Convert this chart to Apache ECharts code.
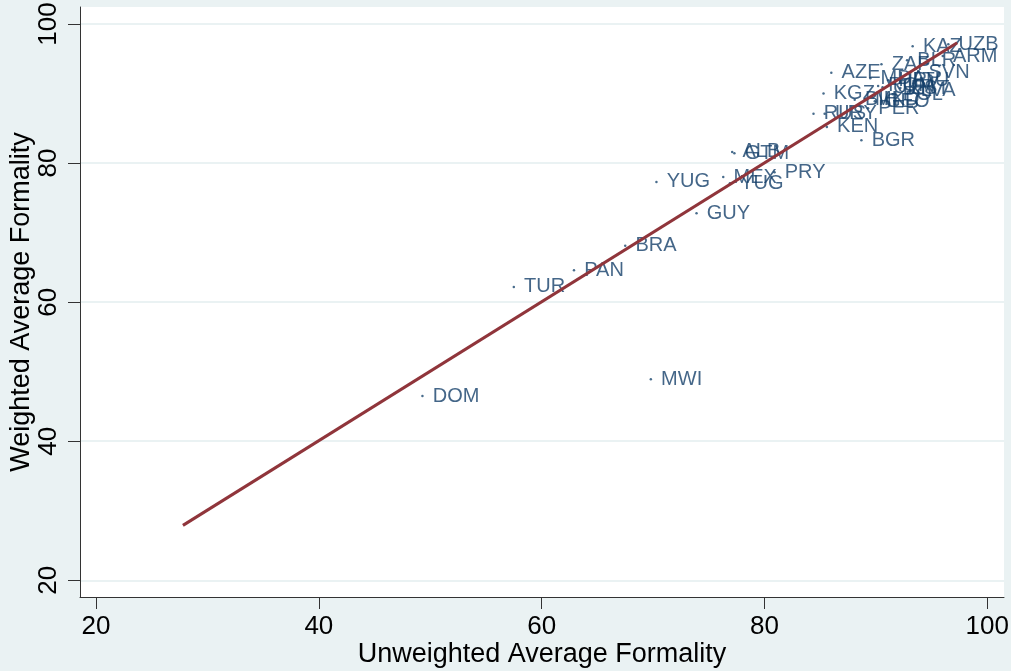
<!DOCTYPE html>
<html><head><meta charset="utf-8">
<script src="https://cdn.jsdelivr.net/npm/echarts@6/dist/echarts.min.js"></script>
<style>html,body{margin:0;padding:0;background:#eaf2f3}#c{width:1011px;height:671px}</style>
</head><body><div id="c"></div>
<script>
const countries = ["DOM","MWI","TUR","PAN","BRA","GUY","YUG","MEX","YUG","PRY","ALB","GTM",
  "AZE","KGZ","RUS","URY","KEN","BGR","PER","ZAF","KAZ","UZB","ARM","BLR","MDA","SVN",
  "LVA","EST","BIH","MKD","GEO","UKR","HRV","POL","LTU","ROM"];
const unweighted = [49.3,69.8,57.5,62.9,67.5,73.9,70.3,76.3,76.9,80.9,77.1,77.3,
  86.0,85.3,84.4,85.4,85.6,88.7,89.3,90.5,93.3,96.5,96.0,92.8,89.5,93.8,
  93.1,92.2,88.1,89.0,89.9,90.6,91.1,91.5,92.4,90.2];
const weighted = [46.5,48.9,62.2,64.6,68.1,72.8,77.3,78.0,77.1,78.7,81.6,81.4,
  93.0,90.0,87.1,87.1,85.2,83.3,87.9,94.2,96.8,97.1,95.4,94.8,92.2,93.1,
  90.5,90.8,89.1,89.2,88.9,90.9,91.9,89.9,91.9,91.1];
const fitX = [27.8, 97.3];
const fitY = [27.9, 97.3];
const xTicks = [20, 40, 60, 80, 100];
const yTicks = [20, 40, 60, 80, 100];

const FONT = "'Liberation Sans', Arial, sans-serif";
const chart = echarts.init(document.getElementById('c'));
chart.setOption({
  backgroundColor: '#eaf2f3',
  animation: false,
  grid: {left: 80, right: 7, top: 7, bottom: 74, containLabel: false, outerBoundsMode: 'none',
    show: true, backgroundColor: '#ffffff', borderWidth: 0},
  xAxis: {
    type: 'value', min: 18.56, max: 101.5,
    name: 'Unweighted Average Formality', nameLocation: 'middle', nameGap: 44, nameMoveOverlap: false,
    nameTextStyle: {fontSize: 27, color: '#000', fontFamily: FONT},
    axisLine: {show: true, lineStyle: {color: '#333', width: 1}},
    axisTick: {show: true, customValues: xTicks, length: 12, lineStyle: {color: '#333'}},
    axisLabel: {customValues: xTicks, fontSize: 26, color: '#000', fontFamily: FONT, margin: 17},
    splitLine: {show: false}
  },
  yAxis: {
    type: 'value', min: 17.6, max: 102.45,
    name: 'Weighted Average Formality', nameLocation: 'middle', nameRotate: 90, nameGap: 45, nameMoveOverlap: false,
    nameTextStyle: {fontSize: 27, color: '#000', fontFamily: FONT},
    axisLine: {show: true, lineStyle: {color: '#333', width: 1}},
    axisTick: {show: true, customValues: yTicks, length: 12, lineStyle: {color: '#333'}},
    axisLabel: {customValues: yTicks, rotate: 90, fontSize: 26, color: '#000', fontFamily: FONT, margin: 18},
    splitLine: {show: true, lineStyle: {color: '#eaf2f3', width: 2}}
  },
  series: [
    {
      type: 'scatter', symbol: 'circle', symbolSize: 2.5,
      itemStyle: {color: '#1a476f'},
      label: {show: true, position: 'right', distance: 9, formatter: '{b}',
        fontSize: 20, color: '#15406a', fontFamily: FONT},
      data: countries.map((c, i) => ({name: c, value: [unweighted[i], weighted[i]]}))
    },
    {
      type: 'line', showSymbol: false, symbol: 'none', z: 5,
      lineStyle: {color: '#90353b', width: 3},
      data: fitX.map((x, i) => [x, fitY[i]])
    }
  ]
});
</script></body></html>
